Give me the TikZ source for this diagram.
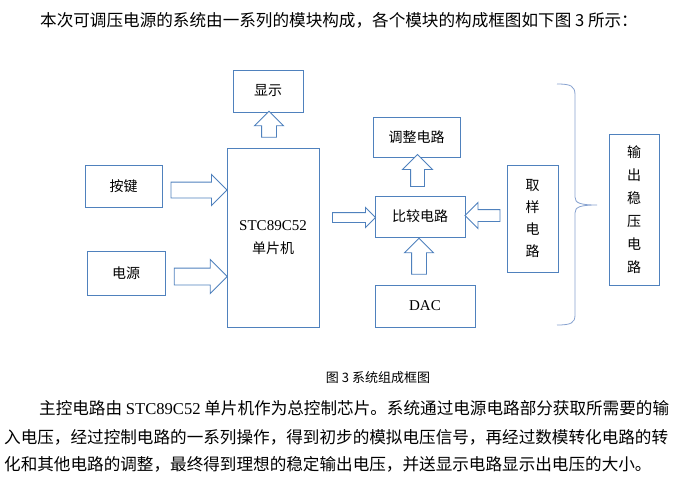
\documentclass[tikz,border=0pt]{standalone}
\usepackage{fontspec}
\setmainfont{Noto Sans CJK SC}
\newfontfamily\latinserif{Liberation Serif}
\usetikzlibrary{shapes.arrows}
\usetikzlibrary{calc}
\definecolor{boxblue}{RGB}{79,129,189}
\definecolor{braceblue}{RGB}{135,162,208}

\begin{document}
\begin{tikzpicture}[x=1pt, y=-1pt]
\tikzstyle{block}=[rectangle, draw=boxblue, line width=1pt, inner sep=0pt, align=center, font=\fontsize{14}{22.5}\selectfont]
\tikzstyle{blockarrow}=[single arrow, draw=boxblue, line width=0.9pt, fill=white, minimum width=0pt]
\tikzstyle{bodytext}=[anchor=west, inner sep=0pt, font=\fontsize{16.6}{20}\selectfont]

	\useasboundingbox (0,0) rectangle (673,496);

	%text
	\node[bodytext] (intro) at (40,20) {本次可调压电源的系统由一系列的模块构成，各个模块的构成框图如下图 3 所示：};
	\node[inner sep=0pt, font=\fontsize{13}{15}\selectfont] (caption) at (378,378) {图 3 系统组成框图};
	\node[bodytext] (line_a) at (39,408) {主控电路由 {\latinserif STC89C52} 单片机作为总控制芯片。系统通过电源电路部分获取所需要的输};
	\node[bodytext] (line_b) at (4,437) {入电压，经过控制电路的一系列操作，得到初步的模拟电压信号，再经过数模转化电路的转};
	\node[bodytext] (line_c) at (4,464) {化和其他电路的调整，最终得到理想的稳定输出电压，并送显示电路显示出电压的大小。};

	%boxes
	\node[block, minimum width=70pt, minimum height=42pt] (show) at (268,91) {显示};
	\node[block, minimum width=92pt, minimum height=179pt] (mcu) at (273,237.5) {{\latinserif\fontsize{15}{23}\selectfont STC89C52}\\单片机};
	\node[block, minimum width=77pt, minimum height=42pt] (key) at (123.5,186) {按键};
	\node[block, minimum width=78pt, minimum height=44pt] (power) at (126,273) {电源};
	\node[block, minimum width=87pt, minimum height=40pt] (adjust) at (416.5,137) {调整电路};
	\node[block, minimum width=90pt, minimum height=41pt] (compare) at (420,216.5) {比较电路};
	\node[block, minimum width=100pt, minimum height=42pt, font=\latinserif\fontsize{15}{18}\selectfont] (dac) at (425,306) {DAC};
	\node[block, minimum width=51pt, minimum height=107pt, font=\fontsize{14}{22}\selectfont] (sample) at (532.5,218.5) {取\\样\\电\\路};
	\node[block, minimum width=50pt, minimum height=151pt, font=\fontsize{14}{23}\selectfont] (output) at (634,209.5) {输\\出\\稳\\压\\电\\路};

	%arrows
	\node[blockarrow, inner sep=7.5pt, single arrow head extend=7.5pt, minimum height=56pt] (key_mcu) at (195,190) {};
	\node[blockarrow, inner sep=8pt, single arrow head extend=8.5pt, minimum height=53pt] (power_mcu) at (196.5,276.5) {};
	\node[blockarrow, inner sep=7pt, single arrow head extend=7pt, minimum height=26pt, shape border rotate=90] (mcu_show) at (269,128) {};
	\node[blockarrow, inner sep=4.5pt, single arrow head extend=5pt, minimum height=43pt] (mcu_compare) at (351.5,217.5) {};
	\node[blockarrow, inner sep=6.5pt, single arrow head extend=8pt, minimum height=32pt, shape border rotate=90] (compare_adjust) at (417.5,174) {};
	\node[blockarrow, inner sep=5.5pt, single arrow head extend=7pt, minimum height=35pt, shape border rotate=180] (sample_compare) at (485.5,215.5) {};
	\node[blockarrow, inner sep=7pt, single arrow head extend=7pt, minimum height=36pt, shape border rotate=90] (dac_compare) at (419,260) {};

	%brace
	\draw[braceblue, line width=0.8pt] (557,84) .. controls (571,84) and (575,86) .. (575,95) -- (575,197)
		.. controls (575,203) and (580,205) .. (597,205)
		.. controls (580,205) and (575,207) .. (575,213) -- (575,315)
		.. controls (575,323) and (571,325) .. (557,325);

\end{tikzpicture}
\end{document}
